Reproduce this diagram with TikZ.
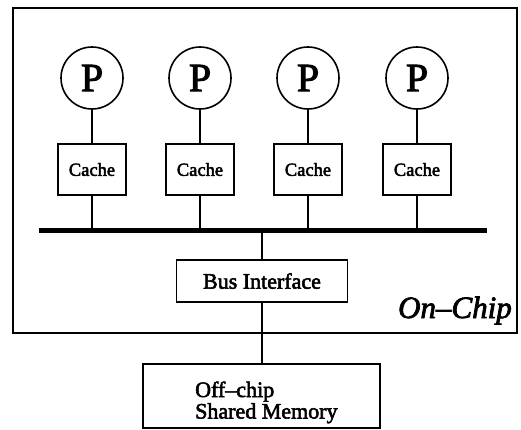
\documentclass[tikz,border=0pt]{standalone}
\usepackage{fontspec}
\setmainfont{Liberation Serif}[FakeBold=2.5]
\begin{document}
\begin{tikzpicture}[x=1pt,y=-1pt,
  proc/.style={draw,circle,line width=1.6pt,minimum size=62pt,inner sep=0pt,font=\fontsize{40}{42}\selectfont},
  cachebox/.style={draw,rectangle,line width=1.6pt,minimum width=68pt,minimum height=51pt,inner sep=0pt,font=\fontsize{18.5}{20}\selectfont},
  plainbox/.style={draw,rectangle,line width=1.6pt,inner sep=0pt},
  wire/.style={line width=1.6pt},
  txt/.style={inner sep=0pt,font=\fontsize{22}{24}\selectfont}]
\useasboundingbox (0,0) rectangle (521,429);
% outer on-chip box
\node[draw,rectangle,line width=2.8pt,minimum width=504pt,minimum height=325pt,inner sep=0pt] (chip) at (265,170.5) {};
\node[anchor=base east,inner sep=0pt,font=\fontsize{31}{33}\selectfont\itshape] (onchip) at (512,318) {On–Chip};
% processors
\foreach \i/\x in {1/92,2/200,3/308,4/417}{
  \node[proc] (p\i) at (\x,78) {P};
  \node[cachebox] (c\i) at (\x,169.5) {Cache};
  \draw[wire] (p\i) -- (c\i);
}
% bus
\coordinate (busL) at (39,230);
\coordinate (busR) at (487,230);
\coordinate (busM) at (262,230);
\draw[line width=5pt] (busL) -- (busR);
\foreach \i in {1,...,4}{
  \draw[wire] (c\i.south) -- (c\i.south |- busL);
}
% bus interface
\node[plainbox,minimum width=171pt,minimum height=42pt,txt] (bi) at (262,281) {Bus Interface};
\draw[wire] (busM) -- (bi.north);
% off-chip memory
\node[plainbox,minimum width=237pt,minimum height=64pt] (mem) at (261.5,396) {};
\draw[wire] (bi.south) -- (bi.south |- mem.north);
\node[txt,anchor=base west] (m1) at (195,397) {Off–chip};
\node[txt,anchor=base west] (m2) at (195,418.5) {Shared Memory};
\end{tikzpicture}
\end{document}
